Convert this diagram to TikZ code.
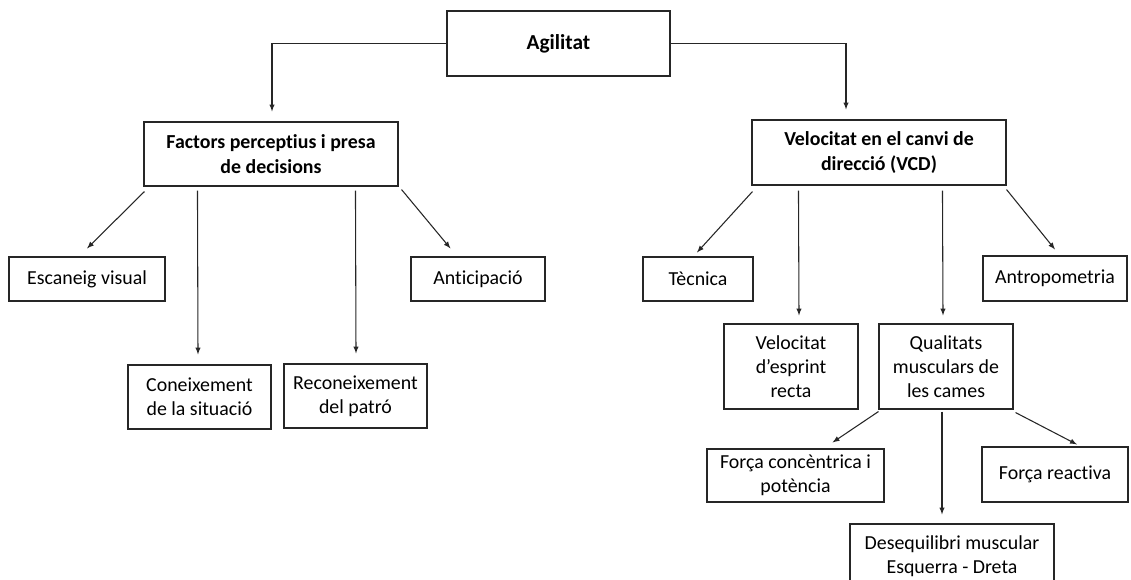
\documentclass[tikz,border=0pt]{standalone}
\usepackage{fontspec}
\setmainfont{Carlito}[Ligatures=NoCommon]
\usetikzlibrary{calc,
	positioning,
	arrows}
\tikzstyle{bx}=[draw=black!85, line width=0.8pt, inner sep=0, align=center,
		font=\fontsize{14.9}{18.2}\selectfont]
\tikzstyle{bxb}=[bx, font=\fontsize{14.9}{18.2}\selectfont\bfseries]
\tikzstyle{ln}=[draw=black!85, line width=0.8pt, -latex]
\tikzset{sz/.style 2 args={minimum width=#1*0.75pt, minimum height=#2*0.75pt}}

\begin{document}
\begin{tikzpicture}[x=0.75pt, y=-0.75pt]
            \useasboundingbox (0,0) rectangle (1131,579);
            \clip (0,0) rectangle (1131,579);
            % top
            \node[bxb, sz={223}{65}, font=\fontsize{16}{19}\selectfont\bfseries] (agi) at (558.5,43.5) {Agilitat};
            \node[bxb, sz={254}{64}] (fac) at (271,154) {Factors perceptius i presa\\de decisions};
            \node[bxb, sz={254}{65}] (vcd) at (879,152.5) {Velocitat en el canvi de\\direcció (VCD)};
            % left branch
            \node[bx, sz={156}{44}] (esc) at (87,279) {Escaneig visual};
            \node[bx, sz={134}{44}] (ant) at (478,279) {Anticipació};
            \node[bx, sz={143}{64}] (con) at (199.5,397) {Coneixement\\de la situació};
            \node[bx, sz={143}{64}] (rec) at (355.5,396) {Reconeixement\\del patró};
            % right branch
            \node[bx, sz={110}{44}] (tec) at (698,279) {Tècnica};
            \node[bx, sz={144}{45}] (atr) at (1055,278.5) {Antropometria};
            \node[bx, sz={134}{85}] (vel) at (791,366.5) {Velocitat\\d’esprint\\recta};
            \node[bx, sz={134}{85}] (qua) at (946,366.5) {Qualitats\\musculars de\\les cames};
            \node[bx, sz={177}{53}] (fco) at (795.5,475.5) {Força concèntrica i\\potència};
            \node[bx, sz={146}{55}] (fre) at (1055,474.5) {Força reactiva};
            \node[bx, sz={204}{64}] (des) at (952,556) {Desequilibri muscular\\Esquerra - Dreta};
            % connectors
            \draw[ln] (agi.west) -| ($(fac.north)+(1,-10)$);
            \draw[ln] (agi.east) -| ($(vcd.north)+(-33,-10)$);
            \draw[ln] ($(fac.south west)+(1,5)$) -- ($(esc.north)+(0,-8)$);
            \draw[ln] ($(fac.south west)+(54,4)$) -- ($(con.north)+(-1.5,-10)$);
            \draw[ln] ($(fac.south west)+(212,4)$) -- ($(rec.north)+(0.5,-10)$);
            \draw[ln] ($(fac.south east)+(3,3)$) -- ($(ant.north west)+(40,-8)$);
            \draw[ln] ($(vcd.south west)+(1,6)$) -- ($(tec.north)+(-1,-4)$);
            \draw[ln] ($(vcd.south west)+(47,5)$) -- ($(vel.north)+(8,-8)$);
            \draw[ln] ($(vcd.south west)+(191,5)$) -- ($(qua.north)+(-3,-8)$);
            \draw[ln] ($(vcd.south east)+(0,4)$) -- ($(atr.north)+(0,-6)$);
            \draw[ln] ($(qua.south west)+(0,2)$) -- ($(fco.north)+(37,-6)$);
            \draw[ln] ($(qua.south)+(-4,2)$) -- ($(des.north)+(-10,-9)$);
            \draw[ln] ($(qua.south east)+(2,3)$) -- ($(fre.north)+(22,-2)$);
\end{tikzpicture}
\end{document}
